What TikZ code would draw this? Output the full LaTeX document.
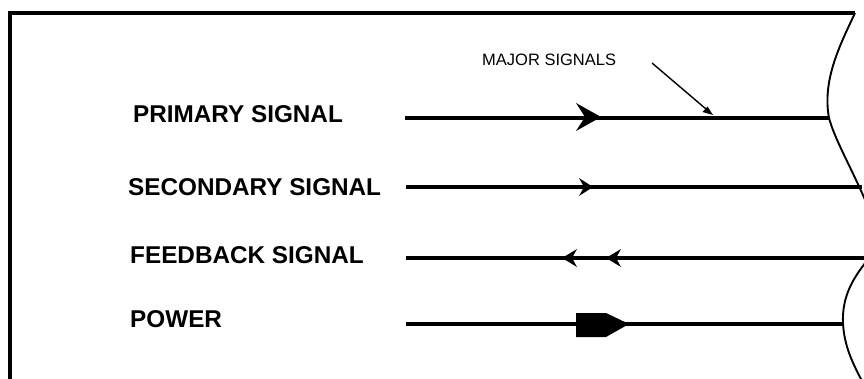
\documentclass[tikz,border=0pt]{standalone}
\usepackage{fontspec}
\setmainfont{Liberation Sans}
\usetikzlibrary{calc}
\begin{document}
\begin{tikzpicture}[x=1pt,y=-1pt,
  lbl/.style={anchor=base west,inner sep=0pt,font=\fontsize{24.3}{24}\selectfont\bfseries},
  small/.style={anchor=base west,inner sep=0pt,font=\fontsize{16.5}{16.5}\selectfont},
  sig/.style={line width=3.6pt},
  mainsig/.style={line width=4.5pt},
  head/.style={fill=black,draw=none},
  edge/.style={line width=1.9pt,line join=round}]
\useasboundingbox (0,0) rectangle (864,379);
% frame
\draw[line width=3.2pt] (10,381) -- (10,13) -- (855,13);
% right torn edge
\draw[edge] (855,13) .. controls (840,45) and (822,80) .. (829,118)
  .. controls (835,140) and (850,165) .. (866,202);
\draw[edge] (866,262) .. controls (850,282) and (842,300) .. (843,323)
  .. controls (844,345) and (852,362) .. (862,381);
% labels
\node[lbl] (p) at (133,123) {PRIMARY SIGNAL};
\node[lbl] (s) at (128,196) {SECONDARY SIGNAL};
\node[lbl] (f) at (130,263) {FEEDBACK SIGNAL};
\node[lbl] (w) at (130,327) {POWER};
\node[small] (m) at (482,66) {MAJOR SIGNALS};
% coordinates
\coordinate (p1) at (405,118); \coordinate (p2) at (829,118);
\coordinate (s1) at (406,187); \coordinate (s2) at (862,187);
\coordinate (f1) at (406,258); \coordinate (f2) at (864,258);
\coordinate (w1) at (406,324); \coordinate (w2) at (843,324);
\coordinate (m1) at (652,63); \coordinate (m2) at (713,115);
% lines
\draw[mainsig] (p1) -- (p2);
\draw[sig] (s1) -- (s2);
\draw[sig] (f1) -- (f2);
\draw[sig] (w1) -- (w2);
% arrowheads
\fill[head] (601,117) -- (576,103) -- (585,117) -- (576,131) -- cycle;
\fill[head] (593,187) -- (579,178) -- (584,187) -- (579,196) -- cycle;
\fill[head] (562,258) -- (577,249) -- (572,258) -- (577,267) -- cycle;
\fill[head] (606,258) -- (621,249) -- (616,258) -- (621,267) -- cycle;
\fill[head] (576,313) -- (606,313) -- (629,324) -- (606,337) -- (576,337) -- cycle;
% leader
\draw[line width=1.4pt] (m1) -- ($(m1)!0.9!(m2)$);
\fill[head] (m2) -- ++(-10.5,-3) -- ++(5,-5.5) -- cycle;
\end{tikzpicture}
\end{document}
